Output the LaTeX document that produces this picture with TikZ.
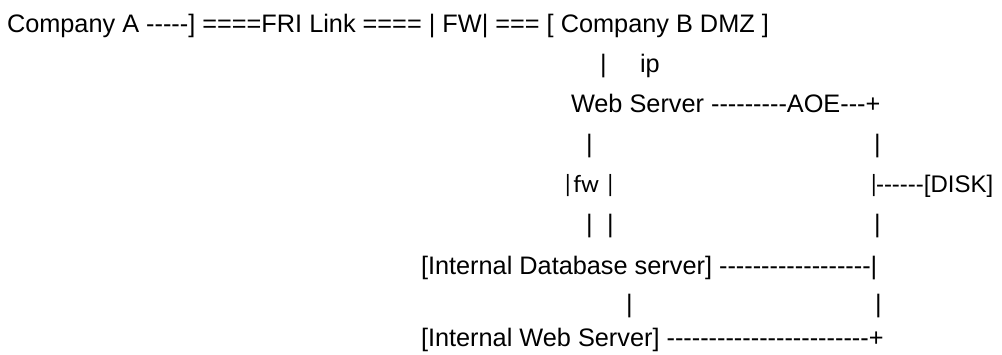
\documentclass[tikz,border=0pt]{standalone}
\usepackage{fontspec}
\newfontfamily\arialf{Liberation Sans}[Ligatures=TeXOff]
\newfontfamily\calif{Carlito}[Ligatures=TeXOff]
\begin{document}
\begin{tikzpicture}[x=1pt,y=-1pt,
  txt/.style={anchor=base west, inner sep=0pt, outer sep=0pt, font=\fontsize{25.3}{30}\selectfont\arialf},
  ctxt/.style={anchor=base west, inner sep=0pt, outer sep=0pt, font=\fontsize{25}{30}\selectfont\calif}]
\useasboundingbox[fill=white] (0,0) rectangle (1002,355);
% line 1
\node[txt] (l1) at (7,33) {Company A -----] ====FRI Link ==== | FW| === [ Company B DMZ ]};
% line 2
\node[txt] (l2bar) at (600,73) {|};
\node[txt] (l2ip) at (640,73) {ip};
% line 3
\node[txt] (l3) at (571,113) {Web Server ---------AOE---+};
% line 4
\node[txt] (l4a) at (586,153) {|};
\node[txt] (l4b) at (874,153) {|};
% line 5
\node[ctxt] (l5a) at (562,193) {|fw |};
\node[ctxt] (l5b) at (868,193) {|};
\node[txt, font=\fontsize{24}{30}\selectfont\arialf] (l5c) at (876,193) {------[DISK]};
% line 6
\node[txt] (l6a) at (586,233) {|};
\node[txt] (l6b) at (607,233) {|};
\node[txt] (l6c) at (874,233) {|};
% line 7
\node[txt] (l7) at (421,275) {[Internal Database server] ------------------|};
% line 8
\node[txt] (l8a) at (626,313) {|};
\node[txt] (l8b) at (875,313) {|};
% line 9
\node[txt] (l9) at (421,347) {[Internal Web Server] ------------------------+};
\end{tikzpicture}
\end{document}
